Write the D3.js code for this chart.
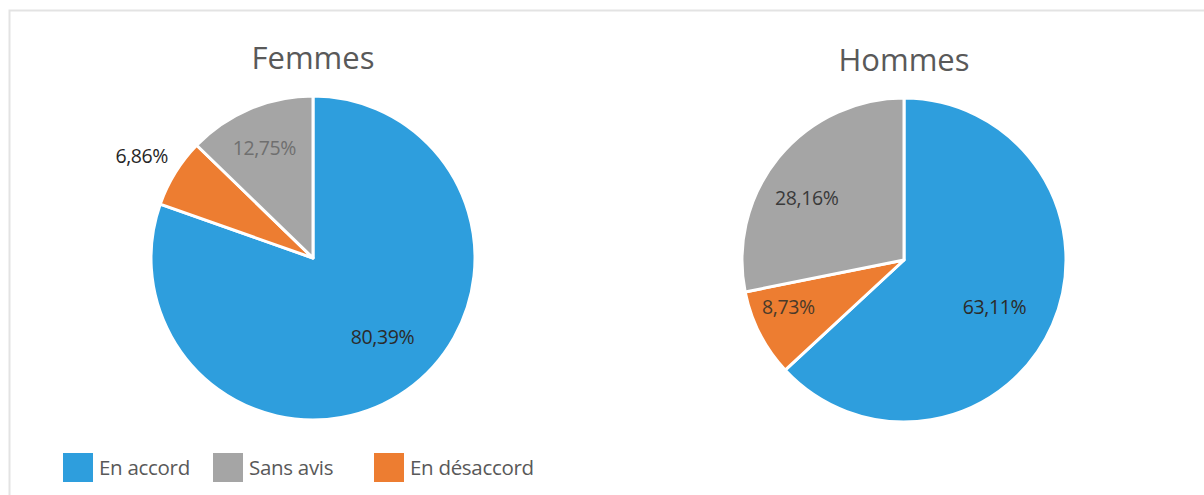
<!DOCTYPE html>
<html>
<head>
<meta charset="utf-8">
<script src="https://cdn.jsdelivr.net/npm/d3@7"></script>
<style>
  html, body { margin: 0; padding: 0; background: #fff; }
  svg { display: block; }
  text { font-family: "Open Sans", "Noto Sans", sans-serif; }
</style>
</head>
<body>
<svg id="chart" width="1204" height="495"></svg>
<script>
// Answers by group, in the order the slices run clockwise from 12 o'clock
const categories = ["En accord", "En désaccord", "Sans avis"];
const femmes = [80.39, 6.86, 12.75];
const hommes = [63.11, 8.73, 28.16];
const groups = ["Femmes", "Hommes"];
// Legend entries, in the order they are listed
const legendItems = ["En accord", "Sans avis", "En désaccord"];

const colors = { "En accord": "#2E9EDD", "En désaccord": "#ED7D31", "Sans avis": "#A5A5A5" };

const svg = d3.select("#chart");

// light frame around the chart area
svg.append("rect")
  .attr("x", 9.5).attr("y", 10.5)
  .attr("width", 1220).attr("height", 500)
  .attr("fill", "none").attr("stroke", "#e3e3e3").attr("stroke-width", 2);

const fmt = v => d3.format(".2f")(v).replace(".", ",") + "%";

// label anchor for each slice: distance from centre (in radii) and a small
// angular nudge (degrees) from the slice's mid-angle
const panels = [
  { name: groups[0], values: femmes, cx: 313, cy: 258, titleY: 69,
    labelR: [0.65, 1.23, 0.74], labelTurn: [-6, -1, -1],
    labelColor: ["#2b2b2b", "#262626", "#6f6f6f"] },
  { name: groups[1], values: hommes, cx: 904, cy: 260, titleY: 71,
    labelR: [0.63, 0.77, 0.71], labelTurn: [4, 5, -7],
    labelColor: ["#2b2b2b", "#4a3a2a", "#3a3a3a"] }
];

const radius = 162;
const pie = d3.pie().sort(null).value(d => d.value);
const arc = d3.arc().innerRadius(0).outerRadius(radius);

panels.forEach(p => {
  const data = categories.map((c, i) => ({ cat: c, value: p.values[i], i }));
  const g = svg.append("g").attr("transform", `translate(${p.cx},${p.cy})`);

  const arcs = pie(data);
  g.selectAll("path.slice").data(arcs).join("path")
    .attr("class", "slice")
    .attr("d", arc)
    .attr("fill", d => colors[d.data.cat])
    .attr("stroke", "#fff")
    .attr("stroke-width", 3)
    .attr("stroke-linejoin", "round");

  g.selectAll("text.lbl").data(arcs).join("text")
    .attr("class", "lbl")
    .attr("transform", d => {
      const a = (d.startAngle + d.endAngle) / 2 + p.labelTurn[d.data.i] * Math.PI / 180;
      const r = radius * p.labelR[d.data.i];
      return `translate(${Math.sin(a) * r},${-Math.cos(a) * r})`;
    })
    .attr("text-anchor", "middle")
    .attr("dy", "0.35em")
    .attr("font-size", 19.5)
    .attr("letter-spacing", -0.4)
    .attr("fill", d => p.labelColor[d.data.i])
    .text(d => fmt(d.data.value));

  svg.append("text")
    .attr("x", p.cx).attr("y", p.titleY)
    .attr("text-anchor", "middle")
    .attr("font-size", 31)
    .attr("fill", "#595959")
    .text(p.name);
});

// legend
const legendX = [63, 213, 374];
const lg = svg.append("g");
legendItems.forEach((name, i) => {
  lg.append("rect")
    .attr("x", legendX[i]).attr("y", 453)
    .attr("width", 30).attr("height", 29)
    .attr("fill", colors[name]);
  lg.append("text")
    .attr("x", legendX[i] + 36).attr("y", 467.5)
    .attr("dy", "0.35em")
    .attr("font-size", 20.5)
    .attr("letter-spacing", -0.3)
    .attr("fill", "#595959")
    .text(name);
});
</script>
</body>
</html>
